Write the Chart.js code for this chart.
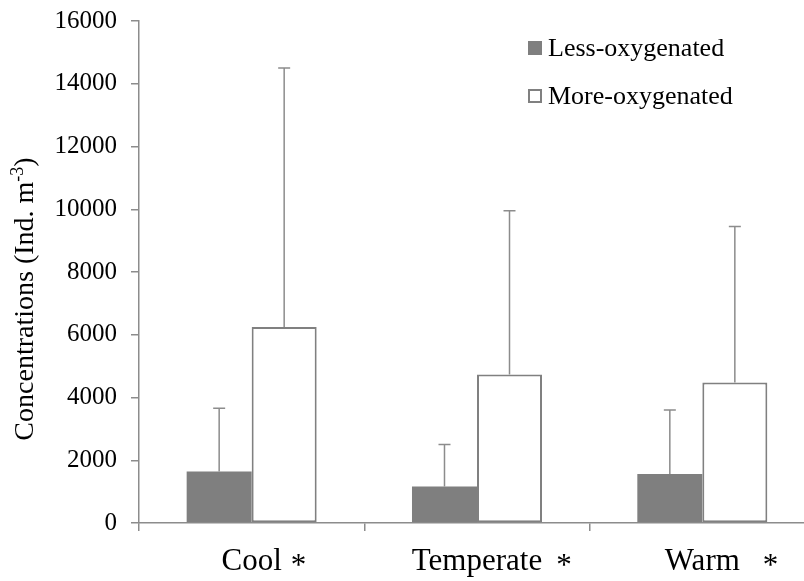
<!DOCTYPE html>
<html>
<head>
<meta charset="utf-8">
<script src="https://cdn.jsdelivr.net/npm/chart.js@4/dist/chart.umd.min.js"></script>
<style>
  html, body { margin: 0; padding: 0; background: #ffffff; overflow: hidden; width: 804px; height: 581px; }
  canvas { display: block; }
</style>
</head>
<body>
<canvas id="c" width="840" height="581"></canvas>
<script>
// ---- data ----
const categories = ['Cool', 'Temperate', 'Warm'];
const significance = ['*', '*', '*'];
const seriesNames = ['Less-oxygenated', 'More-oxygenated'];
const lessOxygenated = [1640, 1160, 1560];
const lessOxygenatedErr = [2020, 1340, 2040];
const moreOxygenated = [6250, 4730, 4480];
const moreOxygenatedErr = [8250, 5220, 4970];
const yMin = 0, yMax = 16000, yStep = 2000;
const yTitleMain = 'Concentrations (Ind. m';
const yTitleSup = '-3';
const yTitleEnd = ')';

const SERIF = "'Liberation Serif', 'Times New Roman', serif";
const AXIS = '#8c8c8c';
const GREY_FILL = '#7f7f7f';

const errorBars = {
  id: 'errorBars',
  afterDatasetsDraw(chart) {
    const ctx = chart.ctx;
    const ys = chart.scales.y;
    chart.data.datasets.forEach((ds, i) => {
      const meta = chart.getDatasetMeta(i);
      meta.data.forEach((bar, j) => {
        const top = ys.getPixelForValue(ds.data[j] + ds.errors[j]);
        ctx.save();
        ctx.strokeStyle = AXIS;
        ctx.lineWidth = 1.5;
        ctx.beginPath();
        ctx.moveTo(bar.x, bar.y);
        ctx.lineTo(bar.x, top);
        ctx.moveTo(bar.x - 6, top);
        ctx.lineTo(bar.x + 6, top);
        ctx.stroke();
        ctx.restore();
      });
    });
  }
};

const extras = {
  id: 'extras',
  afterDraw(chart) {
    const ctx = chart.ctx;
    const xs = chart.scales.x;
    const ca = chart.chartArea;
    // significance markers next to category labels
    ctx.save();
    ctx.font = '31px ' + SERIF;
    ctx.fillStyle = '#000';
    ctx.textBaseline = 'alphabetic';
    const gaps = [9, 14, 23];
    categories.forEach((c, i) => {
      const cx = xs.getPixelForValue(i);
      const w = ctx.measureText(c).width;
      ctx.textAlign = 'left';
      ctx.fillText(significance[i], cx + w / 2 + gaps[i], 575);
    });
    ctx.restore();

    // y-axis title with superscript
    ctx.save();
    const cy = (ca.top + ca.bottom) / 2 + 27;
    ctx.translate(33, cy);
    ctx.rotate(-Math.PI / 2);
    const fMain = '28px ' + SERIF, fSup = '18px ' + SERIF;
    ctx.font = fMain; const w1 = ctx.measureText(yTitleMain).width; const w3 = ctx.measureText(yTitleEnd).width;
    ctx.font = fSup; const w2 = ctx.measureText(yTitleSup).width;
    let x = -(w1 + w2 + w3) / 2;
    ctx.fillStyle = '#000';
    ctx.textBaseline = 'alphabetic';
    ctx.textAlign = 'left';
    ctx.font = fMain; ctx.fillText(yTitleMain, x, 0); x += w1;
    ctx.font = fSup; ctx.fillText(yTitleSup, x, -10); x += w2;
    ctx.font = fMain; ctx.fillText(yTitleEnd, x, 0);
    ctx.restore();

    // legend
    ctx.save();
    ctx.font = '26px ' + SERIF;
    ctx.textBaseline = 'middle';
    ctx.textAlign = 'left';
    chart.data.datasets.forEach((ds, i) => {
      const ly = 48 + i * 48;
      if (i === 0) {
        ctx.fillStyle = ds.backgroundColor;
        ctx.fillRect(528, ly - 7, 14, 14);
      } else {
        ctx.fillStyle = '#fff';
        ctx.fillRect(529, ly - 6, 12, 12);
        ctx.strokeStyle = ds.borderColor;
        ctx.lineWidth = 2;
        ctx.strokeRect(529, ly - 6, 12, 12);
      }
      ctx.fillStyle = '#000';
      ctx.fillText(ds.label, 548, ly + 1);
    });
    ctx.restore();
  }
};

new Chart(document.getElementById('c'), {
  type: 'bar',
  data: {
    labels: categories,
    datasets: [
      { label: seriesNames[0], data: lessOxygenated, errors: lessOxygenatedErr,
        backgroundColor: GREY_FILL, borderColor: GREY_FILL, borderWidth: 0,
        categoryPercentage: 0.577, barPercentage: 1.0 },
      { label: seriesNames[1], data: moreOxygenated, errors: moreOxygenatedErr,
        backgroundColor: '#ffffff', borderColor: '#808080', borderWidth: 2, borderSkipped: false,
        categoryPercentage: 0.577, barPercentage: 1.0 }
    ]
  },
  options: {
    responsive: false,
    animation: false,
    devicePixelRatio: 1,
    layout: { padding: { left: 0, right: 25, top: 21, bottom: 0 } },
    plugins: { legend: { display: false }, tooltip: { enabled: false } },
    scales: {
      x: {
        afterFit(s) { s.height = 58; s.paddingLeft = 0; s.paddingRight = 0; },
        border: { color: AXIS, width: 1.5 },
        grid: { offset: true, drawOnChartArea: false, color: AXIS, tickLength: 8, lineWidth: 1.5 },
        ticks: { color: '#000', font: { family: SERIF, size: 31 }, padding: 12 }
      },
      y: {
        min: yMin, max: yMax,
        afterFit(s) { s.width = 139; s.paddingTop = 0; s.paddingBottom = 0; },
        border: { color: AXIS, width: 1.5 },
        grid: { drawOnChartArea: false, color: AXIS, tickLength: 8, lineWidth: 1.5 },
        ticks: { stepSize: yStep, color: '#000', font: { family: SERIF, size: 25 }, padding: 14,
                 callback: (v) => String(v) }
      }
    }
  },
  plugins: [errorBars, extras]
});
</script>
</body>
</html>
